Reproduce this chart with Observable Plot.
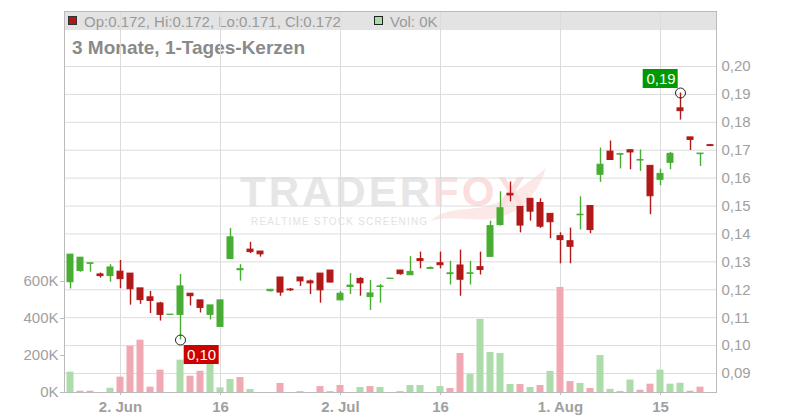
<!DOCTYPE html>
<html><head><meta charset="utf-8">
<script src="https://cdn.jsdelivr.net/npm/d3@7"></script>
<script src="https://cdn.jsdelivr.net/npm/@observablehq/plot@0.6"></script>
<style>
html,body{margin:0;padding:0;background:#fff;}
#wrap{position:relative;width:800px;height:420px;overflow:hidden;font-family:"Liberation Sans",Arial,sans-serif;}
.layer{position:absolute;left:0;top:0;}
.layer svg{display:block;background:transparent;}
</style></head><body>
<div id="wrap">
<svg class="layer" id="bg" width="800" height="420" font-family="Liberation Sans, Arial, sans-serif">
  <rect x="64" y="11" width="652" height="19" fill="#e3e3e3"></rect>
  <rect x="68.5" y="16.5" width="8" height="8" fill="#b01818" stroke="#333" stroke-width="1"></rect>
  <text x="84" y="26.5" font-size="15" fill="#9a9a9a">Op:0.172, Hi:0.172, Lo:0.171, Cl:0.172</text>
  <rect x="374.5" y="16.5" width="8" height="8" fill="#a8dca8" stroke="#222" stroke-width="1"></rect>
  <text x="390" y="26.5" font-size="15" fill="#9a9a9a">Vol: 0K</text>
  <text x="72" y="54" font-size="19" font-weight="bold" fill="#8a8a8a">3 Monate, 1-Tages-Kerzen</text>
  <path d="M430,221 C452,203 478,214 500,201 C516,192 532,180 546,168 C538,194 522,212 497,218 C476,223 455,214 430,221 Z" fill="#fde8e8"></path>
  <text x="240" y="206" font-size="42" font-weight="bold" letter-spacing="3"><tspan fill="#e6e6e6">TRADER</tspan><tspan fill="#fcdede">FOX</tspan></text>
  <text x="251" y="225" font-size="10" letter-spacing="1.2" fill="#e2e2e2">REALTIME STOCK SCREENING</text>
</svg>
<div class="layer" id="grid"></div>
<div class="layer" id="vol"></div>
<div class="layer" id="price"></div>
</div>
<script>
const dates = [
"2025-05-26","2025-05-27","2025-05-28","2025-05-29","2025-05-30",
"2025-06-02","2025-06-03","2025-06-04","2025-06-05","2025-06-06",
"2025-06-09","2025-06-10","2025-06-11","2025-06-12","2025-06-13",
"2025-06-16","2025-06-17","2025-06-18","2025-06-19","2025-06-20",
"2025-06-23","2025-06-24","2025-06-25","2025-06-26","2025-06-27",
"2025-06-30","2025-07-01","2025-07-02","2025-07-03","2025-07-04",
"2025-07-07","2025-07-08","2025-07-09","2025-07-10","2025-07-11",
"2025-07-14","2025-07-15","2025-07-16","2025-07-17","2025-07-18",
"2025-07-21","2025-07-22","2025-07-23","2025-07-24","2025-07-25",
"2025-07-28","2025-07-29","2025-07-30","2025-07-31","2025-08-01",
"2025-08-04","2025-08-05","2025-08-06","2025-08-07","2025-08-08",
"2025-08-11","2025-08-12","2025-08-13","2025-08-14","2025-08-15",
"2025-08-18","2025-08-19","2025-08-20","2025-08-21","2025-08-22"];
const open = [0.1227,0.1267,0.1293,0.1255,0.1249,0.1265,0.1258,0.1205,0.1173,0.1151,
0.1110,0.1110,0.1186,0.1162,0.1110,0.1067,0.1310,0.1270,0.1344,0.1337,
0.1195,0.1244,0.1201,0.1244,0.1230,0.1258,0.1269,0.1162,0.1210,0.1239,
0.1174,0.1210,0.1239,0.1269,0.1252,0.1310,0.1275,0.1295,0.1256,0.1287,
0.1257,0.1281,0.1318,0.1432,0.1544,0.1497,0.1526,0.1511,0.1472,0.1392,
0.1374,0.1467,0.1500,0.1612,0.1695,0.1684,0.1700,0.1663,0.1644,0.1594,
0.1655,0.1850,0.1746,0.1686,0.1718];
const high = [0.1326,0.1315,0.1295,0.1260,0.1290,0.1305,0.1258,0.1205,0.1194,0.1155,
0.1111,0.1255,0.1186,0.1162,0.1144,0.1162,0.1420,0.1290,0.1370,0.1337,
0.1200,0.1244,0.1205,0.1244,0.1235,0.1258,0.1269,0.1194,0.1258,0.1243,
0.1233,0.1219,0.1240,0.1269,0.1319,0.1335,0.1282,0.1335,0.1302,0.1342,
0.1302,0.1335,0.1446,0.1551,0.1586,0.1497,0.1526,0.1526,0.1472,0.1404,
0.1421,0.1533,0.1500,0.1708,0.1733,0.1686,0.1700,0.1701,0.1644,0.1632,
0.1692,0.1905,0.1746,0.1688,0.1721];
const low = [0.1203,0.1263,0.1263,0.1242,0.1227,0.1204,0.1145,0.1148,0.1115,0.1088,
0.1110,0.1020,0.1142,0.1117,0.1092,0.1067,0.1310,0.1231,0.1330,0.1317,
0.1192,0.1177,0.1194,0.1212,0.1183,0.1152,0.1224,0.1162,0.1183,0.1177,
0.1126,0.1152,0.1239,0.1252,0.1252,0.1275,0.1275,0.1275,0.1217,0.1177,
0.1217,0.1253,0.1318,0.1428,0.1515,0.1404,0.1446,0.1420,0.1383,0.1293,
0.1293,0.1414,0.1401,0.1585,0.1665,0.1633,0.1630,0.1624,0.1469,0.1573,
0.1630,0.1808,0.1699,0.1642,0.1713];
const close = [0.1326,0.1315,0.1295,0.1249,0.1280,0.1238,0.1202,0.1163,0.1160,0.1110,
0.1111,0.1212,0.1177,0.1135,0.1144,0.1162,0.1388,0.1274,0.1335,0.1327,
0.1200,0.1190,0.1198,0.1230,0.1223,0.1198,0.1226,0.1186,0.1215,0.1223,
0.1187,0.1212,0.1240,0.1256,0.1264,0.1303,0.1278,0.1288,0.1259,0.1236,
0.1259,0.1271,0.1428,0.1492,0.1538,0.1430,0.1480,0.1426,0.1442,0.1378,
0.1354,0.1469,0.1414,0.1648,0.1665,0.1686,0.1692,0.1665,0.1535,0.1615,
0.1687,0.1840,0.1737,0.1688,0.1715];
const volume = [110000,7000,7000,0,23000,83000,250000,283000,29000,121000,
0,175000,88000,115000,205000,25000,70000,81000,16000,0,
0,49000,0,5000,0,32000,5000,38000,0,27000,
32000,27000,0,5000,38000,38000,0,32000,22000,211000,
97000,395000,216000,211000,43000,43000,27000,38000,114000,568000,
59000,49000,22000,200000,17000,6000,67000,12000,45000,121000,
45000,50000,7000,29000,0];
const priceTicks = [0.09,0.10,0.11,0.12,0.13,0.14,0.15,0.16,0.17,0.18,0.19,0.20];
const priceDomain = [0.0832,0.2197];
const volTicks = [0,200000,400000,600000];
const volDomain = [0,2060000];
const xTickDates = ["2025-06-02","2025-06-16","2025-07-02","2025-07-16","2025-08-01","2025-08-15"];
const xTickLabels = ["2. Jun","16","2. Jul","16","1. Aug","15"];
const lowMark = [{date:"2025-06-10", v:0.1020, label:"0,10"}];
const highMark = [{date:"2025-08-19", v:0.1905, label:"0,19"}];

const GREEN = "#49ad34", RED = "#b21919", VGREEN = "#abdcaa", VRED = "#f0a9b2";
const rows = dates.map((d,i)=>({date:d, open:open[i], high:high[i], low:low[i], close:close[i], volume:volume[i],
  up: close[i] >= open[i], volUp: i === 0 || close[i] >= close[i-1]}));
const up = rows.filter(d=>d.up), down = rows.filter(d=>!d.up);
const labelOf = new Map(xTickDates.map((d,i)=>[d, xTickLabels[i]]));

const common = {width:800, height:420, marginTop:11, marginBottom:28, marginLeft:64, marginRight:84,
  style:{background:"transparent", fontFamily:"Liberation Sans, Arial, sans-serif", fontSize:"15px", color:"#a0a0a0", overflow:"visible"}};
const xOpt = {type:"band", domain:dates, paddingInner:0.4, paddingOuter:0, align:0.5, label:null};

document.getElementById("grid").append(Plot.plot({...common,
  x:{...xOpt, axis:null}, y:{domain:priceDomain, axis:null, label:null},
  marks:[
    Plot.ruleY(priceTicks, {stroke:"#dcdcdc"}),
    Plot.ruleX(xTickDates, {stroke:"#dcdcdc"})
  ]}));

document.getElementById("vol").append(Plot.plot({...common,
  x:{...xOpt, axis:null}, y:{domain:volDomain, label:null},
  marks:[
    Plot.barY(rows.filter(d=>d.volUp), {x:"date", y:"volume", fill:VGREEN, insetLeft:-0.5, insetRight:-0.5}),
    Plot.barY(rows.filter(d=>!d.volUp), {x:"date", y:"volume", fill:VRED, insetLeft:-0.5, insetRight:-0.5}),
    Plot.axisY(volTicks, {anchor:"left", tickFormat:d=>(d/1000)+"K", tickSize:4, tickPadding:2, fontSize:15, fill:"#a0a0a0", stroke:"#bbb", label:null})
  ]}));

document.getElementById("price").append(Plot.plot({...common,
  x:{...xOpt}, y:{domain:priceDomain, label:null},
  marks:[
    Plot.frame({stroke:"#bbb"}),
    Plot.ruleX(up, {x:"date", y1:"low", y2:"high", stroke:GREEN, strokeWidth:1.4}),
    Plot.ruleX(down, {x:"date", y1:"low", y2:"high", stroke:RED, strokeWidth:1.4}),
    Plot.barY(up, {x:"date", y1:"open", y2:"close", fill:GREEN, stroke:GREEN, strokeWidth:1}),
    Plot.barY(down, {x:"date", y1:"open", y2:"close", fill:RED, stroke:RED, strokeWidth:1}),
    Plot.axisY(priceTicks, {anchor:"right", tickFormat:d=>d.toFixed(2).replace(".",","), tickSize:0, tickPadding:5, fontSize:15, fill:"#a0a0a0", label:null}),
    Plot.axisX(xTickDates, {anchor:"bottom", tickFormat:d=>labelOf.get(d), tickSize:3, tickPadding:6, fontSize:15, fontWeight:"bold", fill:"#a0a0a0", stroke:"#bbb", label:null}),
    Plot.dot(lowMark, {x:"date", y:"v", r:5, stroke:"#222", strokeWidth:1, fill:"none"}),
    Plot.barY(lowMark, {x:"date", y1:"v", y2:"v", fill:"#cc0000", dy:5.5, insetLeft:6.7, insetRight:-35.7, insetTop:0, insetBottom:-19}),
    Plot.text(lowMark, {x:"date", y:"v", text:"label", dx:21, dy:15, fill:"white", fontSize:15}),
    Plot.dot(highMark, {x:"date", y:"v", r:5, stroke:"#222", strokeWidth:1, fill:"none"}),
    Plot.barY(highMark, {x:"date", y1:"v", y2:"v", fill:"#009900", dy:-23.5, insetLeft:-34.3, insetRight:5.3, insetTop:0, insetBottom:-19}),
    Plot.text(highMark, {x:"date", y:"v", text:"label", dx:-19.5, dy:-14, fill:"white", fontSize:15})
  ]}));
</script>
</body></html>
